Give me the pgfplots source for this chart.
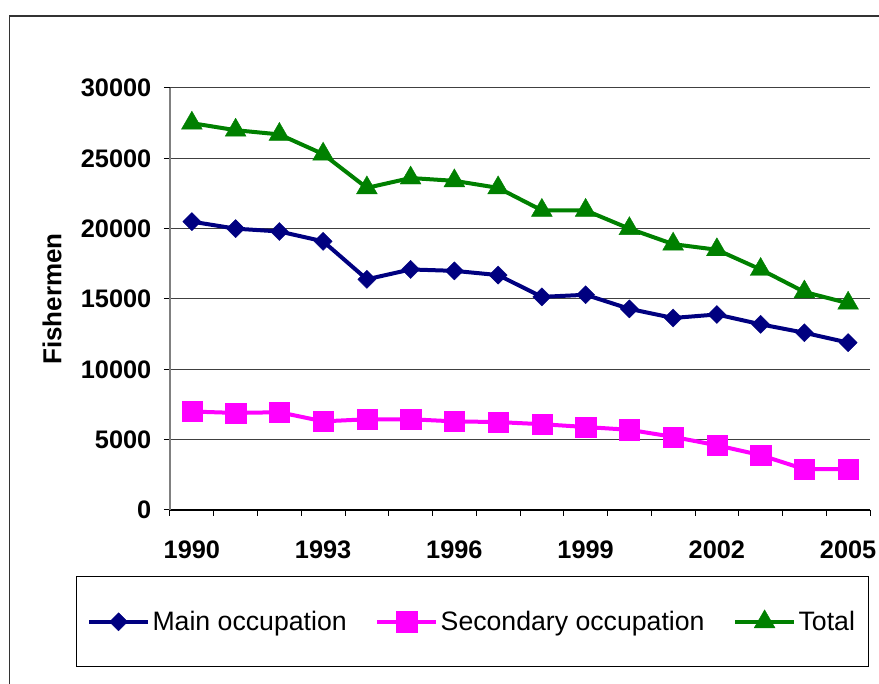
\documentclass[border=0pt]{standalone}
\usepackage{pgfplots}
\pgfplotsset{compat=1.18}
\usepackage{fontspec}
\setmainfont{Liberation Sans}
\definecolor{navyc}{HTML}{000080}
\definecolor{magc}{HTML}{FF00FF}
\definecolor{greenc}{HTML}{008000}
\begin{document}
\begin{tikzpicture}[x=0.75pt,y=0.75pt]
\useasboundingbox (0,0) rectangle (879,684);
\draw[line width=1pt, black!80] (9.5,-20) -- (9.5,668) -- (900,668);
\begin{axis}[
  at={(127.5pt,130.5pt)}, anchor=south west,
  scale only axis, width=525pt, height=316.5pt,
  xmin=-0.5, xmax=15.5, ymin=0, ymax=30000,
  axis lines*=left,
  x axis line style={-, black, line width=0.9pt},
  y axis line style={-, black!50, line width=1.2pt},
  xtick={-0.5,0.5,...,15.5},
  x tick label as interval,
  xticklabels={1990,,,1993,,,1996,,,1999,,,2002,,,2005},
  ytick={0,5000,...,30000},
  scaled ticks=false,
  tick align=outside,
  major tick length=4.5pt,
  tick style={black, line width=0.75pt},
  ymajorgrids,
  grid style={black!75, line width=0.75pt},
  /pgf/number format/.cd, set thousands separator={}, assume math mode=true,
  /pgfplots/.cd,
  ticklabel style={font=\bfseries\fontsize{19}{19}\selectfont},
  xticklabel style={yshift=-15pt},
  yticklabel style={xshift=-6pt},
  ylabel={Fishermen},
  ylabel style={font=\bfseries\fontsize{19.5}{19.5}\selectfont, at={(axis description cs:-0.1686,0.5)}, anchor=center},
  legend columns=3,
  legend style={draw=none, fill=none, at={(axis description cs:0.432,-0.265)}, anchor=center,
    font=\fontsize{20}{20}\selectfont,
    /tikz/every even column/.append style={column sep=19.5pt}},
  legend image code/.code={\draw[mark repeat=2,mark phase=2] plot coordinates {(0pt,0pt) (22pt,0pt) (44pt,0pt)};},
  every axis plot/.append style={line width=3pt},
]
\addplot[color=navyc, mark=square*, mark size=4.8pt, mark options={rotate=45, solid, line width=0.3pt, fill=navyc}] coordinates {
(0,20500) (1,20000) (2,19800) (3,19100) (4,16400) (5,17100) (6,17000) (7,16700)
(8,15150) (9,15300) (10,14300) (11,13650) (12,13900) (13,13200) (14,12600) (15,11900)};
\addlegendentry{Main occupation}
\addplot[color=magc, mark=square*, mark size=7.6pt, mark options={solid, line width=0.3pt, fill=magc}] coordinates {
(0,7000) (1,6900) (2,6950) (3,6300) (4,6450) (5,6450) (6,6300) (7,6250)
(8,6100) (9,5900) (10,5700) (11,5200) (12,4600) (13,3900) (14,2900) (15,2900)};
\addlegendentry{Secondary occupation}
\addplot[color=greenc, mark=triangle*, mark size=9pt, mark options={solid, line width=0.3pt, fill=greenc}] coordinates {
(0,27500) (1,27000) (2,26700) (3,25300) (4,22900) (5,23600) (6,23400) (7,22900)
(8,21300) (9,21300) (10,20000) (11,18900) (12,18500) (13,17100) (14,15500) (15,14700)};
\addlegendentry{Total}
\end{axis}
\draw[black, line width=0.75pt] (76,17) rectangle (868,107);
\end{tikzpicture}
\end{document}
